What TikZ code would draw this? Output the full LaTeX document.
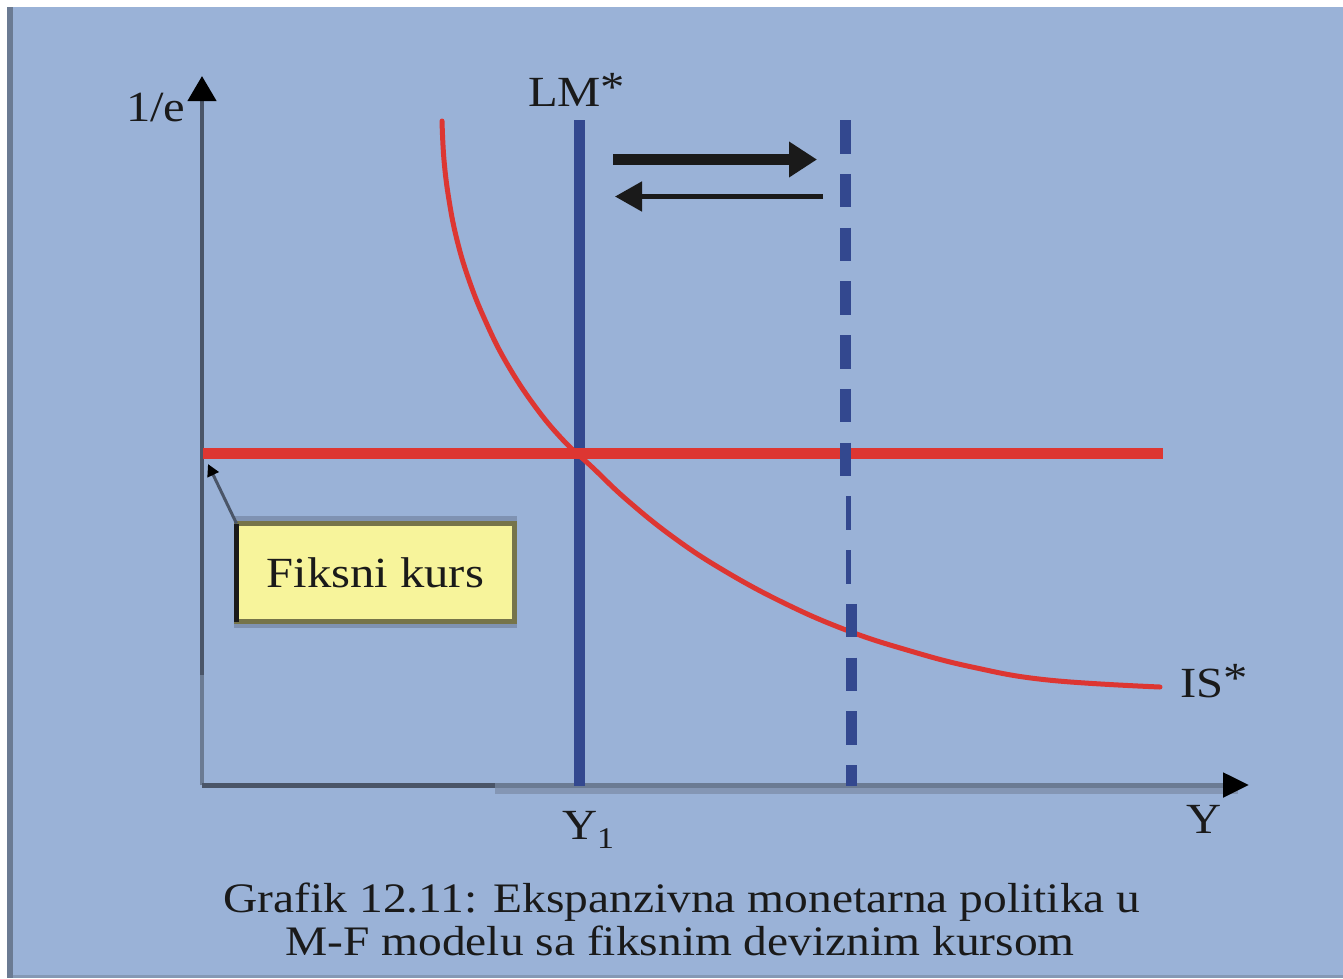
\documentclass[tikz,border=0pt]{standalone}
\usepackage{graphicx}
\usepackage{fontspec}
\setmainfont{Liberation Serif}
\usetikzlibrary{arrows.meta}
\definecolor{bgblue}{HTML}{9AB2D7}
\definecolor{leftbar}{HTML}{6B7B93}
\definecolor{bottomline}{HTML}{8599B5}
\definecolor{axisgray}{HTML}{4A5568}
\definecolor{axislight}{HTML}{6B7B93}
\definecolor{shadowgray}{HTML}{8496B4}
\definecolor{redline}{HTML}{DD3632}
\definecolor{blueline}{HTML}{33488F}
\definecolor{boxyellow}{HTML}{F7F49B}
\definecolor{boxolive}{HTML}{76744A}
\definecolor{boxshadow}{HTML}{7F92B2}
\definecolor{txt}{HTML}{1A1A1A}
\newcommand{\stretchtxt}[1]{\scalebox{1.13}[1]{#1}}
\begin{document}
\begin{tikzpicture}[x=1pt,y=-1pt,
  lbl/.style={font=\fontsize{43}{50}\selectfont, text=txt, inner sep=0pt, outer sep=0pt},
  captiontext/.style={font=\fontsize{42}{48}\selectfont, text=txt, inner sep=0pt, outer sep=0pt},
  axisline/.style={draw=axisgray, line width=4.5pt},
  lmline/.style={draw=blueline, line width=11pt},
  lmdash/.style={draw=blueline, line width=11pt, dash pattern=on 33.5pt off 20.25pt},
  fixline/.style={draw=redline, line width=11pt},
  iscurve/.style={draw=redline, line width=5pt, line cap=round},
  fixbox/.style={draw=boxolive, fill=boxyellow, line width=5pt, minimum width=277.5pt, minimum height=98pt, inner sep=0pt, outer sep=0pt, font=\fontsize{43}{50}\selectfont, text=txt},
  pointer/.style={draw=axisgray, line width=3pt, -{Triangle[length=12pt 0,width=12pt 0,color=black]}}
]
\useasboundingbox (0,0) rectangle (1343,978);
% frame and background
\fill[white] (0,0) rectangle (1343,978);
\fill[bgblue] (7,7) rectangle (1343,978);
\fill[leftbar] (7,7) rectangle (13,978);
\fill[bottomline] (13,975) rectangle (1343,978);

% coordinates
\coordinate (O) at (202,785);
\coordinate (ytip) at (202,76);
\coordinate (xtip) at (1249,785);
\coordinate (ylow) at (202,675);
\coordinate (xmid) at (495,785);
\coordinate (sh1) at (495,791);
\coordinate (sh2) at (1238,791);

% axes
\draw[draw=shadowgray, line width=6pt] (sh1) -- (sh2);
\draw[axisline, -{Triangle[length=25pt 0,width=28pt 0,color=black]}] (O) -- (ytip);
\draw[draw=axislight, line width=4.5pt] (O) -- (ylow);
\draw[axisline, draw=axislight, line width=5pt, -{Triangle[length=26pt 0,width=24pt 0,color=black]}] (O) -- (xtip);
\draw[axisline, line width=5pt] (O) -- (xmid);

% LM* solid
\coordinate (lmtop) at (579.5,120);
\coordinate (lmbot) at (579.5,786);
\draw[lmline] (lmtop) -- (lmbot);

% fixed exchange rate line
\coordinate (fxl) at (203,453.5);
\coordinate (fxr) at (1163,453.5);
\draw[fixline] (fxl) -- (fxr);

% IS* curve
\draw[iscurve] plot[smooth, tension=0.7] coordinates {(442,121) (444,160) (449,200) (457,240) (469,280) (485,320) (506,362) (534,405) (563,440) (592,467) (627,500) (673,537) (723,570) (784,603) (846,630) (907,650) (972,667) (1048,680) (1160,687)};

% LM* shifted (dashed)
\coordinate (d1t) at (845.5,120);
\coordinate (d1b) at (845.5,480);
\coordinate (d2t) at (848.5,496.25);
\coordinate (d2b) at (848.5,590);
\coordinate (d3t) at (851.5,603.75);
\coordinate (d3b) at (851.5,786);
\draw[lmdash] (d1t) -- (d1b);
\draw[lmdash, line width=5pt] (d2t) -- (d2b);
\draw[lmdash] (d3t) -- (d3b);

% shift arrows
\coordinate (a1s) at (613,159.5);
\coordinate (a1e) at (817,159.5);
\coordinate (a2s) at (823,196.5);
\coordinate (a2e) at (615,196.5);
\draw[draw=txt, line width=11pt, -{Triangle[length=28pt 0,width=34pt 0]}] (a1s) -- (a1e);
\draw[draw=txt, line width=5pt, -{Triangle[length=27pt 0,width=29pt 0]}] (a2s) -- (a2e);

% box
\fill[boxshadow] (234,516) rectangle (517,628);
\node[fixbox] (box) at (375.25,572.5) {\stretchtxt{Fiksni kurs}};
\draw[draw=txt, line width=5pt] (box.north west) -- (box.south west);
\coordinate (fixpt) at (208,464);
\draw[pointer] (box.north west) -- (fixpt);

% labels
\node[lbl, anchor=base west] (ylab) at (126,121) {\stretchtxt{1/e}};
\node[lbl, anchor=base west] (lmlab) at (528,106) {\stretchtxt{LM\raisebox{5pt}{*}}};
\node[lbl, anchor=base west] (islab) at (1180,697) {\stretchtxt{IS\raisebox{5pt}{*}}};
\node[lbl, anchor=base west] (xlab) at (1186,833) {\stretchtxt{Y}};
\node[lbl, anchor=base west] (y1lab) at (562,839) {\stretchtxt{Y\raisebox{-9pt}{\fontsize{30}{30}\selectfont 1}}};

% caption
\node[captiontext, anchor=base] (cap1) at (682,912) {\stretchtxt{Grafik 12.11: Ekspanzivna monetarna politika u}};
\node[captiontext, anchor=base] (cap2) at (680,955) {\stretchtxt{M-F modelu sa fiksnim deviznim kursom}};
\end{tikzpicture}
\end{document}
